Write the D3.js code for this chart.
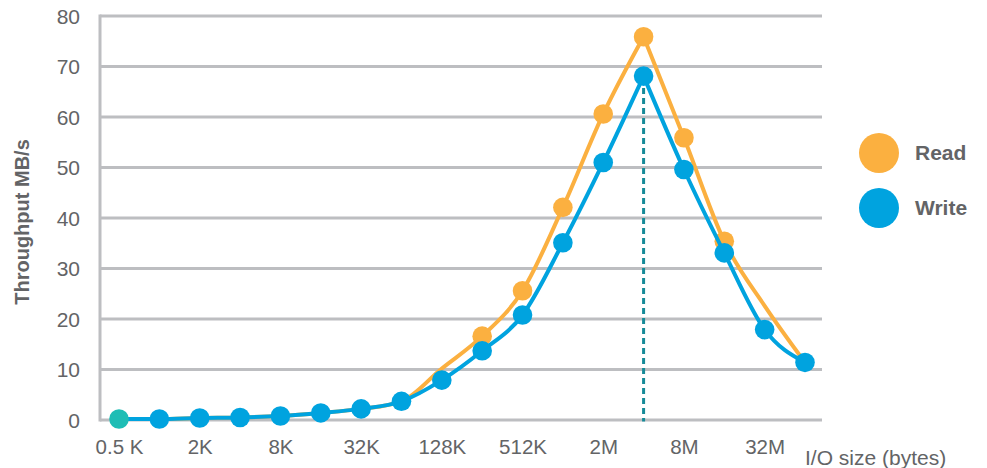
<!DOCTYPE html>
<html>
<head>
<meta charset="utf-8">
<script src="https://cdn.jsdelivr.net/npm/d3@7"></script>
<style>
  body { margin: 0; background: #fff; }
  svg { display: block; }
  text { font-family: "Helvetica Neue", Helvetica, "Liberation Sans", Arial, sans-serif; }
</style>
</head>
<body>
<svg id="chart" width="987" height="468"></svg>
<script>
// I/O sizes tested, smallest to largest
const sizes = ["0.5 K", "1K", "2K", "4K", "8K", "16K", "32K", "64K", "128K",
               "256K", "512K", "1M", "2M", "4M", "8M", "16M", "32M", "64M"];

// Throughput in MB/s for each size
const readMBs  = [0.2, 0.2, 0.4, 0.5, 0.8, 1.4, 2.2, 3.7, 10.2,
                  16.6, 25.6, 42.1, 60.6, 75.9, 55.9, 35.4, 22.6, 11.4];
const writeMBs = [0.2, 0.2, 0.4, 0.5, 0.8, 1.4, 2.2, 3.7, 7.9,
                  13.7, 20.8, 35.1, 51.0, 68.1, 49.6, 33.1, 17.9, 11.4];

// Sizes where the read series carries a marker
const readMarked = ["256K", "512K", "1M", "2M", "4M", "8M", "16M"];

// Axis ticks
const yTicks = [0, 10, 20, 30, 40, 50, 60, 70, 80];
const xTickLabels = ["0.5 K", "2K", "8K", "32K", "128K", "512K", "2M", "8M", "32M"];

const series = [
  { name: "Read",  values: readMBs,  color: "#FBB040" },
  { name: "Write", values: writeMBs, color: "#00A3DF" }
];

const svg = d3.select("#chart");
const gridColor = "#BDBEC1";
const textColor = "#636466";

const x = d3.scalePoint().domain(sizes).range([119, 805]);
const y = d3.scaleLinear().domain([0, 80]).range([420, 16]);
const axisLeft = 100, axisRight = 822;

// Horizontal grid lines
svg.append("g").selectAll("line")
  .data(yTicks)
  .join("line")
  .attr("x1", axisLeft).attr("x2", axisRight)
  .attr("y1", d => y(d)).attr("y2", d => y(d))
  .attr("stroke", gridColor).attr("stroke-width", 3);

// Vertical axis line
svg.append("line")
  .attr("x1", axisLeft).attr("x2", axisLeft)
  .attr("y1", y(80) - 1.5).attr("y2", y(0) + 1.5)
  .attr("stroke", gridColor).attr("stroke-width", 3);

// Y tick labels
const yAxis = d3.axisLeft(y).tickValues(yTicks).tickSize(0).tickPadding(0);
const gy = svg.append("g").attr("transform", `translate(80,0)`).call(yAxis);
gy.select(".domain").remove();
gy.selectAll("text")
  .attr("fill", textColor)
  .style("font-size", "21px")
  .attr("dy", "0.35em");

// X tick labels
const xAxis = d3.axisBottom(x).tickValues(xTickLabels).tickSize(0).tickPadding(0);
const gx = svg.append("g").attr("transform", `translate(0,447)`).call(xAxis);
gx.select(".domain").remove();
gx.selectAll("text")
  .attr("fill", textColor)
  .style("font-size", "20.5px")
  .attr("dy", "0.35em");

// Axis titles
svg.append("text")
  .attr("transform", `translate(29,222) rotate(-90)`)
  .attr("text-anchor", "middle")
  .attr("fill", textColor)
  .style("font-size", "20px").style("font-weight", "bold")
  .text("Throughput MB/s");

svg.append("text")
  .attr("x", 805).attr("y", 465)
  .attr("fill", textColor)
  .style("font-size", "21px")
  .text("I/O size (bytes)");

// Peak marker: dashed drop line under the write peak
const peakIdx = d3.maxIndex(writeMBs);
svg.append("line")
  .attr("x1", x(sizes[peakIdx])).attr("x2", x(sizes[peakIdx]))
  .attr("y1", y(writeMBs[peakIdx]) + 12).attr("y2", y(0) + 1.5)
  .attr("stroke", "#168A98").attr("stroke-width", 3)
  .attr("stroke-dasharray", "6,4");

// Curves are split at each series' peak so the apex stays pointed
const line = d3.line()
  .x(d => x(d.size))
  .y(d => y(d.v))
  .curve(d3.curveMonotoneX);

series.forEach(s => {
  const pts = sizes.map((size, i) => ({ size, v: s.values[i] }));
  const p = d3.maxIndex(s.values);
  const g = svg.append("g");
  [pts.slice(0, p + 1), pts.slice(p)].forEach(seg => {
    g.append("path")
      .attr("d", line(seg))
      .attr("fill", "none")
      .attr("stroke", s.color)
      .attr("stroke-width", 4)
      .attr("stroke-linejoin", "round")
      .attr("stroke-linecap", "round");
  });
  const marked = s.name === "Read" ? pts.filter(d => readMarked.includes(d.size)) : pts;
  g.selectAll("circle")
    .data(marked)
    .join("circle")
    .attr("cx", d => x(d.size))
    .attr("cy", d => y(d.v))
    .attr("r", 9.8)
    .attr("fill", d => (s.name === "Write" && d.size === sizes[0]) ? "#1EBDB5" : s.color);
});

// Legend
const legend = svg.append("g").selectAll("g")
  .data(series)
  .join("g")
  .attr("transform", (d, i) => `translate(879,${153 + i * 55})`);
legend.append("circle").attr("r", 20).attr("fill", d => d.color);
legend.append("text")
  .attr("x", 36).attr("dy", "0.35em")
  .attr("fill", textColor)
  .style("font-size", "21px").style("font-weight", "bold")
  .text(d => d.name);
</script>
</body>
</html>
